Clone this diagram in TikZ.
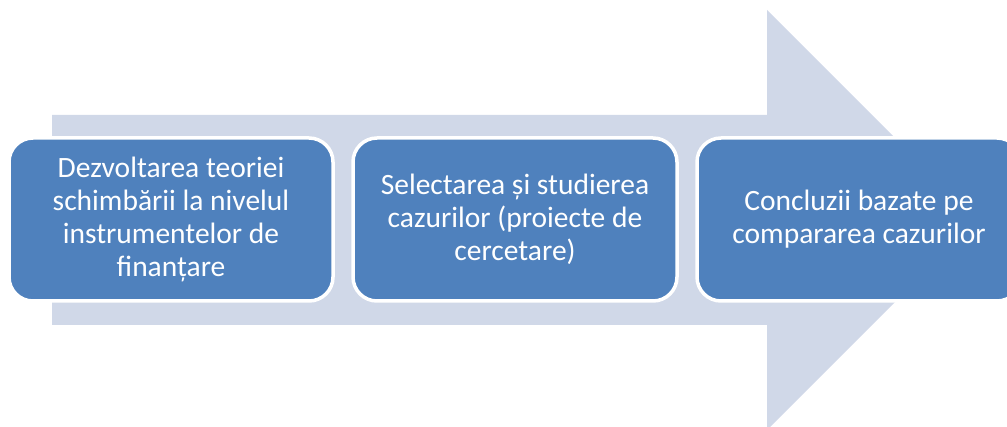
\documentclass[tikz,border=0pt]{standalone}
\usepackage{fontspec}
\setmainfont{Carlito}
\definecolor{arrowfill}{HTML}{D0D8E8}
\definecolor{boxfill}{HTML}{4F81BD}
\begin{document}
\begin{tikzpicture}[x=1pt,y=-1pt,
  stepbox/.style={draw=white, line width=3.5pt, fill=boxfill, rounded corners=24pt,
    minimum width=324pt, minimum height=163pt, inner sep=0pt, text=white,
    align=center, font=\fontsize{29.5}{33}\selectfont}]
\useasboundingbox (0,0) rectangle (1007,427);
\clip (0,0) rectangle (1007,427);
\fill[arrowfill] (52,115) -- (767,115) -- (767,10) -- (977,220) -- (767,430) -- (767,325) -- (52,325) -- cycle;
\node[stepbox] (s1) at (171,219.5) {Dezvoltarea teoriei\\schimbării la nivelul\\instrumentelor de\\finanțare};
\node[stepbox] (s2) at (515,219.5) {Selectarea și studierea\\cazurilor (proiecte de\\cercetare)};
\node[stepbox] (s3) at (859,219.5) {Concluzii bazate pe\\compararea cazurilor};
\end{tikzpicture}
\end{document}
